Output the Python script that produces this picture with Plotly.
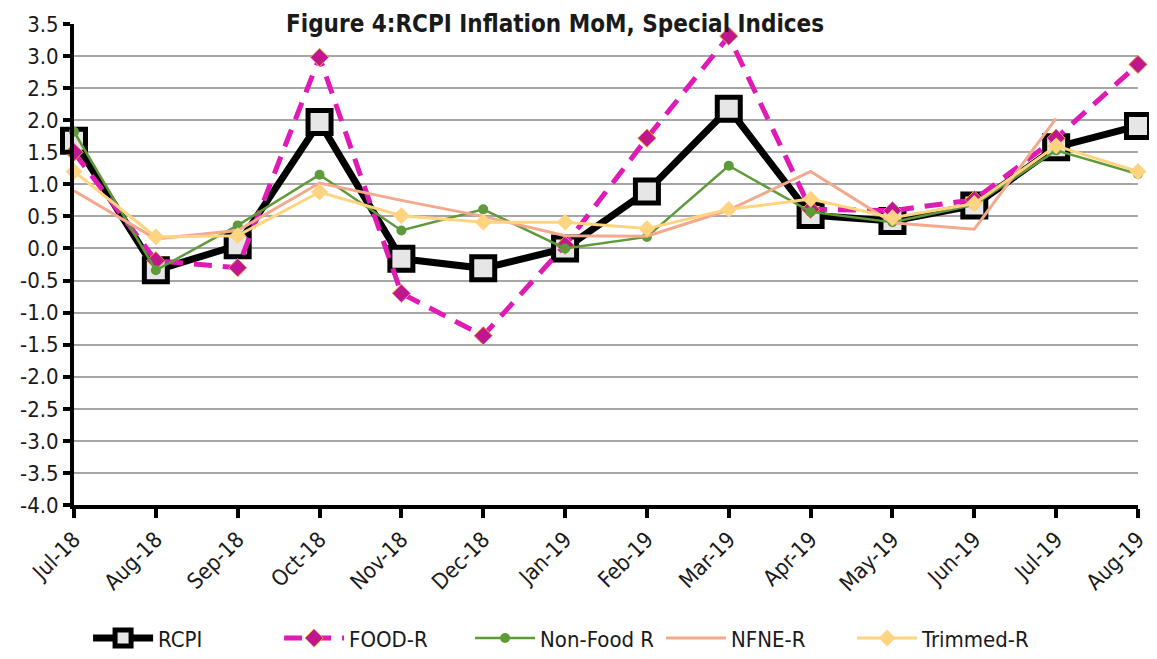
import plotly.graph_objects as go

months = ["Jul-18", "Aug-18", "Sep-18", "Oct-18", "Nov-18", "Dec-18", "Jan-19",
          "Feb-19", "Mar-19", "Apr-19", "May-19", "Jun-19", "Jul-19", "Aug-19"]

rcpi = [1.68, -0.34, 0.05, 1.97, -0.16, -0.31, 0.0, 0.89, 2.18, 0.52, 0.43, 0.67, 1.58, 1.91]
food_r = [1.50, -0.19, -0.30, 2.98, -0.70, -1.36, 0.05, 1.72, 3.31, 0.61, 0.59, 0.76, 1.72, 2.87]
non_food_r = [1.82, -0.34, 0.36, 1.15, 0.28, 0.61, 0.0, 0.18, 1.29, 0.57, 0.41, 0.68, 1.53, 1.16]
nfne_r = [0.90, 0.15, 0.28, 1.02, 0.75, 0.50, 0.20, 0.19, 0.60, 1.20, 0.40, 0.30, 2.03, None]
trimmed_r = [1.20, 0.18, 0.20, 0.88, 0.51, 0.41, 0.41, 0.31, 0.61, 0.77, 0.48, 0.70, 1.60, 1.20]

y_ticks = [3.5, 3.0, 2.5, 2.0, 1.5, 1.0, 0.5, 0.0, -0.5, -1.0, -1.5, -2.0,
           -2.5, -3.0, -3.5, -4.0]

FONT = "DejaVu Sans Condensed, Liberation Sans Narrow, sans-serif"
TXT = "#1a1a1a"

fig = go.Figure()
fig.add_trace(go.Scatter(
    x=months, y=rcpi, name="RCPI", mode="lines+markers",
    line=dict(color="black", width=7),
    marker=dict(symbol="square", size=23, color="#e6e6e6",
                line=dict(color="black", width=5)),
    cliponaxis=False,
))
fig.add_trace(go.Scatter(
    x=months, y=food_r, name="FOOD-R", mode="lines+markers",
    line=dict(color="#e01bb5", width=5, dash="18px,11px"),
    marker=dict(symbol="diamond", size=14, color="#c0188c",
                line=dict(color="#f0a030", width=1)),
    cliponaxis=False,
))
fig.add_trace(go.Scatter(
    x=months, y=non_food_r, name="Non-Food R", mode="lines+markers",
    line=dict(color="#5e9a3a", width=2.5),
    marker=dict(symbol="circle", size=10, color="#5e9a3a"),
    cliponaxis=False,
))
fig.add_trace(go.Scatter(
    x=months, y=nfne_r, name="NFNE-R", mode="lines",
    line=dict(color="#f2a98c", width=3),
    cliponaxis=False,
))
fig.add_trace(go.Scatter(
    x=months, y=trimmed_r, name="Trimmed-R", mode="lines+markers",
    line=dict(color="#ffd480", width=3),
    marker=dict(symbol="diamond", size=13, color="#ffd480"),
    cliponaxis=False,
))

# titulo arriba del todo, rozando la grilla de 3.5 como en el original
fig.add_annotation(
    text="<b>Figure 4:RCPI Inflation MoM, Special Indices</b>",
    xref="paper", yref="paper", x=0.452, y=1.033,
    xanchor="center", yanchor="top", showarrow=False,
    font=dict(size=24, color=TXT, family=FONT),
)

# la página tiene 8px de margen en body (arriba e izquierda)
fig.update_layout(
    width=1149, height=651,
    paper_bgcolor="white", plot_bgcolor="white",
    margin=dict(l=66, r=19, t=16, b=154, autoexpand=False),
    font=dict(family=FONT, size=21, color=TXT),
    showlegend=True,
    legend=dict(orientation="h", x=0.462, y=-0.277, xanchor="center", yanchor="middle",
                font=dict(size=22), itemwidth=60, entrywidth=116,
                traceorder="normal"),
    xaxis=dict(
        type="category", range=[0, 13],
        showline=True, linecolor="black", linewidth=4,
        ticks="outside", ticklen=9, tickwidth=4, tickcolor="black",
        tickangle=-45, showgrid=False, zeroline=False,
        tickfont=dict(size=22),
    ),
    yaxis=dict(
        range=[-4, 3.5], tickvals=y_ticks,
        ticktext=[f"{v:.1f}" for v in y_ticks],
        showline=True, linecolor="black", linewidth=4,
        ticks="outside", ticklen=7, tickwidth=4, tickcolor="black",
        showgrid=True, gridcolor="#a6a6a6", gridwidth=1.5,
        zeroline=False, tickfont=dict(size=22),
    ),
)

fig.write_html("out.html")
